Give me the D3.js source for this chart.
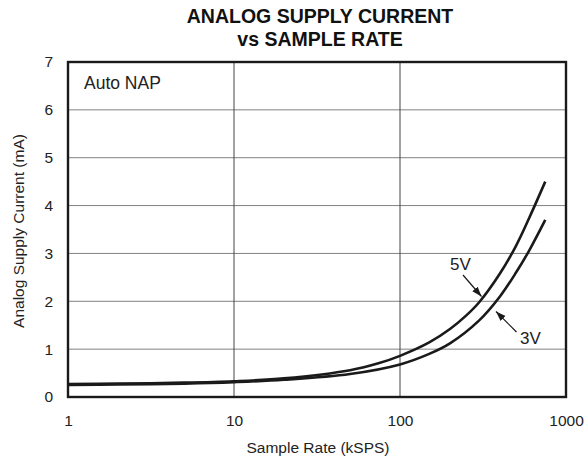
<!DOCTYPE html>
<html>
<head>
<meta charset="utf-8">
<script src="https://cdn.jsdelivr.net/npm/d3@7"></script>
<style>
  html, body { margin: 0; padding: 0; background: #fff; }
  svg { display: block; font-family: "Liberation Sans", Arial, Helvetica, sans-serif; }
</style>
</head>
<body>
<svg id="chart" width="585" height="465"></svg>
<script>
// Sample rate (kSPS) and analog supply current (mA) for each supply voltage
const rate5V = [1, 2, 5, 10, 20, 50, 75, 100, 150, 200, 250, 300, 400, 500, 600, 750];
const current5V = [0.27, 0.28, 0.30, 0.33, 0.39, 0.56, 0.71, 0.86, 1.14, 1.42, 1.70, 1.98, 2.58, 3.16, 3.74, 4.5];
const rate3V = [1, 2, 5, 10, 20, 50, 100, 150, 200, 300, 400, 500, 600, 750];
const current3V = [0.25, 0.26, 0.28, 0.31, 0.36, 0.48, 0.68, 0.90, 1.12, 1.60, 2.10, 2.60, 3.06, 3.7];
const xTicks = [1, 10, 100, 1000];
const xTickLabels = ["1", "10", "100", "1000"];
const yTicks = [0, 1, 2, 3, 4, 5, 6, 7];

const svg = d3.select("#chart");
const margin = { left: 68, right: 19, top: 62, bottom: 68 };
const W = 585, H = 465;
const x = d3.scaleLog().domain([1, 1000]).range([margin.left, W - margin.right]);
const y = d3.scaleLinear().domain([0, 7]).range([H - margin.bottom, margin.top]);

// Title
svg.append("text").attr("x", 320).attr("y", 23).attr("text-anchor", "middle")
  .attr("font-size", 19.5).attr("font-weight", "bold").attr("fill", "#111").text("ANALOG SUPPLY CURRENT");
svg.append("text").attr("x", 320).attr("y", 46).attr("text-anchor", "middle")
  .attr("font-size", 19.5).attr("font-weight", "bold").attr("fill", "#111").text("vs SAMPLE RATE");

// Grid
const grid = svg.append("g");
grid.selectAll("line.h").data(yTicks.slice(1, -1)).join("line")
  .attr("x1", x(1)).attr("x2", x(1000))
  .attr("y1", d => y(d)).attr("y2", d => y(d))
  .attr("stroke", "#808080").attr("stroke-width", 1);
grid.selectAll("line.v").data(xTicks.slice(1, -1)).join("line")
  .attr("y1", y(0)).attr("y2", y(7))
  .attr("x1", d => x(d)).attr("x2", d => x(d))
  .attr("stroke", "#444").attr("stroke-width", 1);

// Axes (labels only; the frame is drawn separately)
const xAxis = svg.append("g").attr("transform", `translate(0,${y(0)})`)
  .call(d3.axisBottom(x).tickValues(xTicks).tickFormat((d, i) => xTickLabels[i]).tickSize(0).tickPadding(18));
const yAxis = svg.append("g").attr("transform", `translate(${x(1)},0)`)
  .call(d3.axisLeft(y).tickValues(yTicks).tickFormat(d3.format("d")).tickSize(0).tickPadding(15));
[xAxis, yAxis].forEach(a => {
  a.select(".domain").remove();
  a.selectAll("text").attr("font-size", 15.5).attr("fill", "#222")
    .attr("font-family", "'Liberation Sans', Arial, sans-serif");
});

// Curves
const line = d3.line().x(d => x(d[0])).y(d => y(d[1])).curve(d3.curveCatmullRom.alpha(0.5));
const series = [d3.zip(rate5V, current5V), d3.zip(rate3V, current3V)];
svg.append("g").selectAll("path").data(series).join("path")
  .attr("d", line).attr("fill", "none").attr("stroke", "#1a1a1a")
  .attr("stroke-width", 2.6).attr("stroke-linejoin", "round");

// Plot frame
svg.append("rect").attr("x", x(1)).attr("y", y(7))
  .attr("width", x(1000) - x(1)).attr("height", y(0) - y(7))
  .attr("fill", "none").attr("stroke", "#1a1a1a").attr("stroke-width", 2.4);

// Annotations
svg.append("text").attr("x", 84).attr("y", 89).attr("font-size", 17.5).attr("fill", "#222").text("Auto NAP");

svg.append("defs").append("marker").attr("id", "arrow")
  .attr("viewBox", "0 0 10 10").attr("refX", 10).attr("refY", 5)
  .attr("markerWidth", 10).attr("markerHeight", 10).attr("markerUnits", "userSpaceOnUse")
  .attr("orient", "auto")
  .append("path").attr("d", "M0,1.5 L10,5 L0,8.5 Z").attr("fill", "#1a1a1a");

function callout(label, lx, ly, from, to) {
  svg.append("text").attr("x", lx).attr("y", ly).attr("font-size", 17).attr("fill", "#222").text(label);
  svg.append("line").attr("x1", from[0]).attr("y1", from[1]).attr("x2", to[0]).attr("y2", to[1])
    .attr("stroke", "#1a1a1a").attr("stroke-width", 1.2).attr("marker-end", "url(#arrow)");
}
callout("5V", 450, 270, [463, 275], [481.5, 296.5]);
callout("3V", 520, 344, [516.5, 332], [496, 311.5]);

// Axis titles
svg.append("text").attr("x", 318).attr("y", 453).attr("text-anchor", "middle")
  .attr("font-size", 15.5).attr("fill", "#222").text("Sample Rate (kSPS)");
svg.append("text").attr("transform", `translate(24,231) rotate(-90)`)
  .attr("text-anchor", "middle").attr("font-size", 15.5).attr("fill", "#222").text("Analog Supply Current (mA)");
</script>
</body>
</html>
